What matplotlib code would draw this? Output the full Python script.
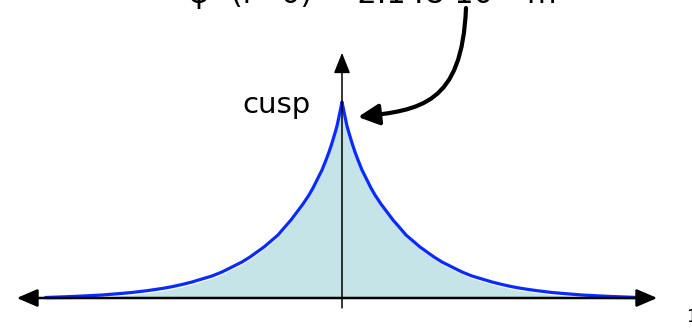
import matplotlib
matplotlib.use("Agg")
import matplotlib.pyplot as plt
from matplotlib.patches import FancyArrowPatch
from matplotlib.path import Path

# probability density |psi|^2 (in px above the axis, cusp = 196), r >= 0
r = [0.0, 0.01, 0.02, 0.035, 0.05, 0.07, 0.10, 0.13, 0.16, 0.20, 0.25, 0.29,
     0.33, 0.39, 0.45, 0.51, 0.58, 0.64, 0.71, 0.78, 0.85, 0.92, 1.00, 1.10,
     1.20, 1.30, 1.40, 1.50, 1.60, 1.70, 1.80, 1.95, 2.10, 2.25, 2.40, 2.55,
     2.70, 2.83, 2.96]
dens = [196, 191, 186, 179, 172, 165, 155, 146, 138, 128, 118, 110,
        103, 94, 86, 78, 70, 63, 57, 51, 46, 41, 36, 31,
        26, 22, 19, 16, 13.5, 11.3, 9.5, 7.3, 5.5, 4.2, 3.0, 2.2,
        1.5, 1.0, 0.5]
dens = [d / 196 for d in dens]

top_label = "ψ² (r=0) = 2.148·10³⁰ m⁻³"
cusp_label = "cusp"

# symmetric about r = 0
x = [-v for v in r[::-1]] + r[1:]
y = dens[::-1] + dens[1:]

fig = plt.figure(figsize=(6.92, 3.28), dpi=100)
ax = fig.add_axes([0, 0, 1, 1])
ax.set_xlim(-3.42, 3.50)
ax.set_ylim(-30 / 196, 298 / 196)
ax.axis("off")

ax.fill_between(x, [v - 0.012 for v in y], 0, color="#c4e4e7", lw=0, zorder=1)
ax.plot(x, y, color="#0a2bff", lw=2.3, zorder=3, solid_joinstyle="round")

# axes with arrows
ax.add_patch(FancyArrowPatch((-3.28, 0), (3.18, 0), arrowstyle="<|-|>,head_length=0.7,head_width=0.3",
                             mutation_scale=18, color="black", lw=1.8, zorder=4))
ax.add_patch(FancyArrowPatch((0, -0.065), (0, 1.265), arrowstyle="-|>,head_length=0.7,head_width=0.28",
                             mutation_scale=18, color="black", lw=1.1, zorder=4))

# curved arrow from the value to the cusp
pts = [(466, 8), (462, 105), (420, 110), (358, 117)]
verts = [((px - 342) / 100, (298 - py) / 196) for px, py in pts]
path = Path(verts, [Path.MOVETO, Path.CURVE4, Path.CURVE4, Path.CURVE4])
ax.add_patch(FancyArrowPatch(path=path, arrowstyle="-|>,head_length=0.7,head_width=0.35",
                             mutation_scale=18, color="black", lw=3.0, zorder=5))

ax.text(-0.65, 0.944, cusp_label, fontsize=21, ha="center", va="baseline")
ax.text(0.45, 1.505, top_label, fontsize=22, ha="center", va="baseline")
ax.text(3.44, -0.122, "1", fontsize=12, ha="left", va="baseline")

fig.savefig("out.png", dpi=100)
